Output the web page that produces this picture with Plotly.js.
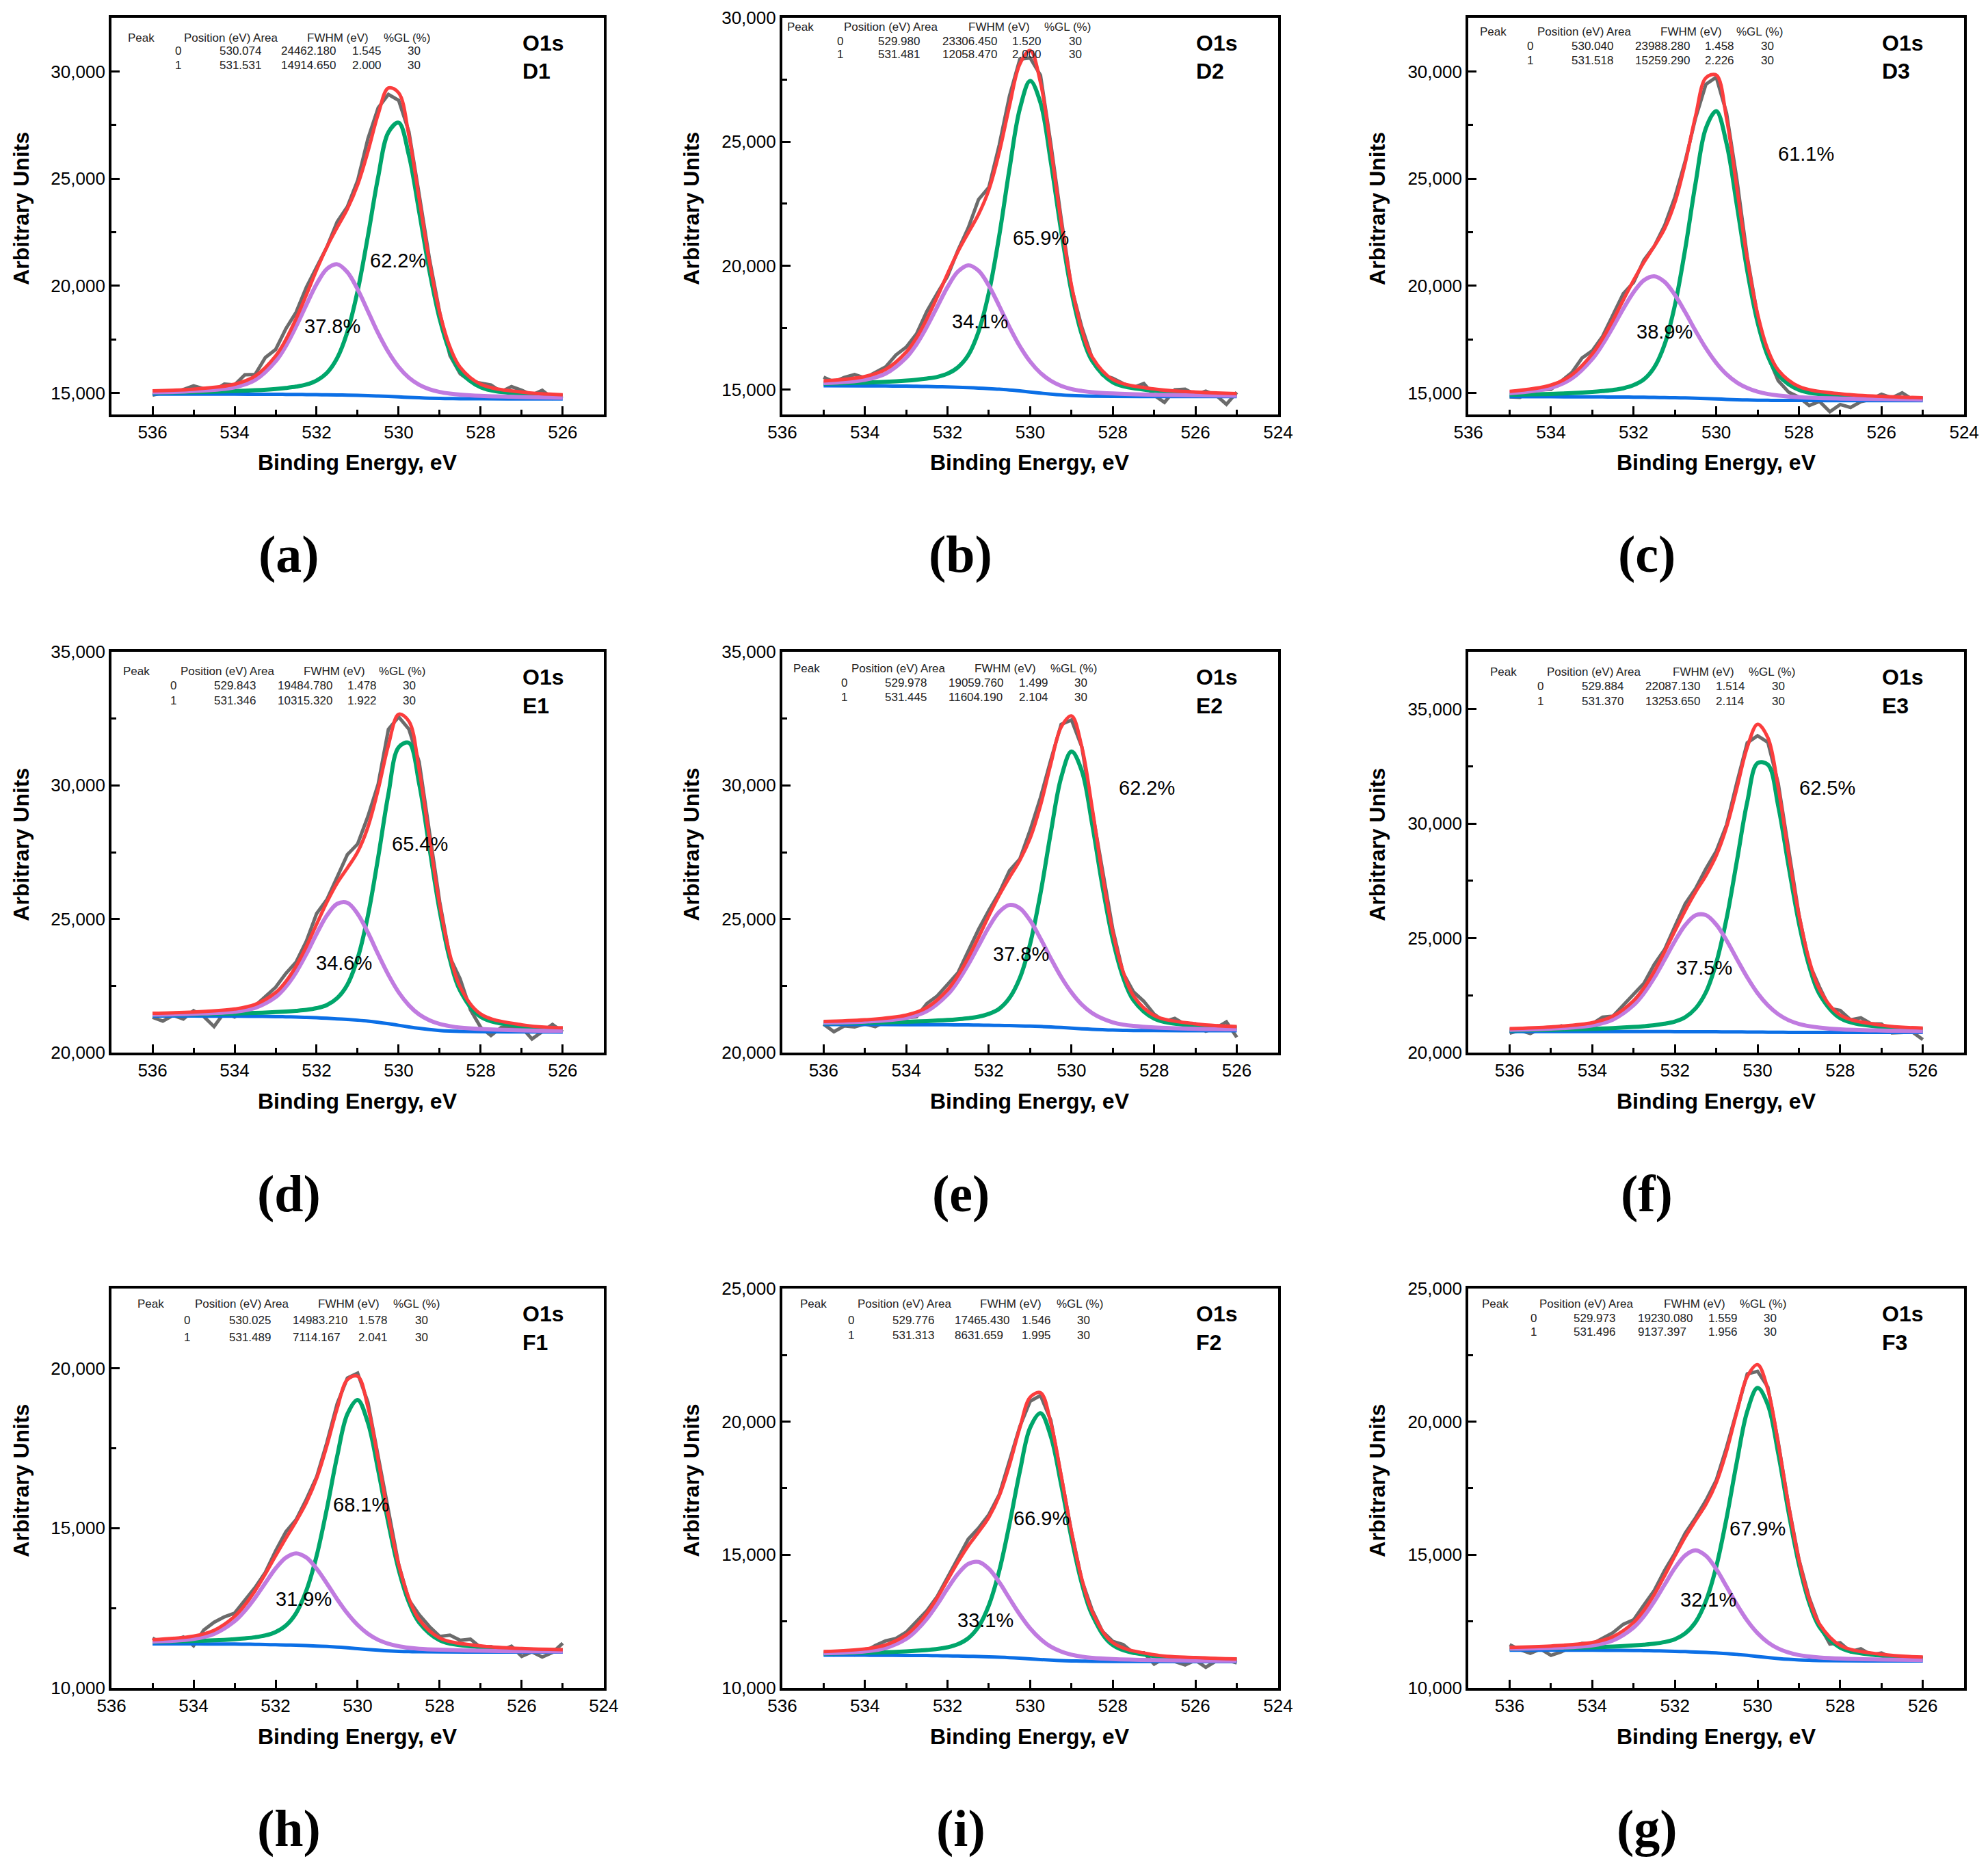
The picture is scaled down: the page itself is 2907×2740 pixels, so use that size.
<!DOCTYPE html>
<html>
<head>
<meta charset="utf-8">
<script src="https://cdn.plot.ly/plotly-3.0.1.min.js"></script>
<style>
body {margin:0; background:#fff;}
#chart {width:2907px; height:2740px;}
</style>
</head>
<body>
<div id="chart"></div>
<script>

// ---------------------------- DATA -------------------------------- //

// binding energy grids (eV)
var evA = [536,535,534,533.5,533,532.75,532.5,532.25,532,531.75,531.5,531.25,531,530.75,530.5,530.25,530,529.75,529.5,529.25,529,528.75,528.5,528,527,526]
var evB = [535,534,533.5,533,532.75,532.5,532.25,532,531.75,531.5,531.25,531,530.75,530.5,530.25,530,529.75,529.5,529.25,529,528.75,528.5,528,527,526,525]
var rawEvA = [536,535.75,535.5,535.25,535,534.75,534.5,534.25,534,533.75,533.5,533.25,533,532.75,532.5,532.25,532,531.75,531.5,531.25,531,530.75,530.5,530.25,530,529.75,529.5,529.25,529,528.75,528.5,528.25,528,527.75,527.5,527.25,527,526.75,526.5,526.25,526]
var rawEvB = [535,534.75,534.5,534.25,534,533.75,533.5,533.25,533,532.75,532.5,532.25,532,531.75,531.5,531.25,531,530.75,530.5,530.25,530,529.75,529.5,529.25,529,528.75,528.5,528.25,528,527.75,527.5,527.25,527,526.75,526.5,526.25,526,525.75,525.5,525.25,525]

// D1
var rawD1   = [14900,15020,14995,15170,15340,15200,15125,15420,15380,15855,15870,16660,17030,18000,18770,19930,20840,21810,22980,23690,24910,26860,28300,28930,28650,27190,24260,21270,18760,16750,15900,15550,15460,15380,15060,15300,15130,14910,15130,14750,14870]
var bgD1    = [14950,14949,14948,14946,14942,14939,14936,14931,14926,14919,14912,14903,14893,14881,14864,14844,14822,14800,14781,14764,14752,14744,14739,14734,14731,14730]
var peak0D1 = [15014,15044,15092,15133,15193,15238,15300,15399,15586,15941,16629,17854,19770,22320,25076,27160,27608,26086,23455,20706,18462,16919,16013,15274,14960,14865]
var peak1D1 = [15037,15091,15271,15605,16479,17196,18108,19116,20084,20787,21008,20637,19834,18819,17792,16912,16216,15715,15385,15179,15051,14976,14928,14871,14816,14788]
var envD1   = [15101,15186,15415,15792,16730,17495,18472,19584,20744,21809,22725,23588,24711,26258,28004,29228,29002,27001,24059,21121,18761,17151,16202,15411,15045,14923]

// D2
var rawD2   = [15507,15320,15495,15610,15475,15715,15918,16400,16719,17253,18163,18888,19579,20616,21525,22672,23165,24862,26854,28333,28380,27680,24916,21910,19108,17525,16270,15600,15462,15250,15090,15250,14779,14490,15000,15025,14806,14940,14775,14410,14897]
var bgD2    = [15160,15157,15151,15144,15139,15132,15123,15112,15099,15084,15066,15047,15023,14990,14951,14908,14864,14825,14792,14769,14753,14743,14733,14727,14725,14725]
var peak0D2 = [15245,15288,15319,15368,15404,15452,15517,15648,15903,16390,17339,18915,21203,23920,26330,27455,26570,24182,21399,18951,17227,16162,15296,14958,14858,14812]
var peak1D2 = [15272,15404,15650,16295,16838,17543,18344,19143,19762,20019,19799,19197,18382,17524,16754,16133,15674,15359,15153,15026,14951,14901,14849,14798,14773,14760]
var envD2   = [15357,15535,15818,16519,17103,17863,18738,19679,20566,21325,22072,23065,24562,26454,28133,28680,27380,24716,21760,19208,17425,16320,15412,15029,14906,14847]

// D3
var rawD3   = [14827,14800,15125,15150,15174,15560,15946,16635,16974,17648,18605,19637,20164,21198,21848,22814,24145,25827,27829,29401,29730,28054,24952,21367,18598,16715,15574,15050,14809,14420,14610,14130,14467,14330,14600,14720,14945,14780,15015,14700,14731]
var bgD3    = [14830,14829,14826,14824,14821,14818,14815,14810,14805,14799,14791,14783,14773,14760,14744,14726,14708,14691,14678,14668,14662,14658,14653,14651,14650,14650]
var peak0D3 = [14916,14962,14998,15056,15096,15145,15224,15371,15640,16199,17268,19104,21732,24788,27356,28146,26634,23750,20708,18302,16721,15842,15151,14870,14778,14733]
var peak1D3 = [14991,15241,15674,16592,17273,18078,18928,19703,20263,20448,20187,19574,18768,17901,17089,16410,15878,15493,15237,15064,14956,14890,14811,14748,14717,14698]
var envD3   = [15077,15374,15846,16824,17548,18405,19337,20264,21098,21848,22664,23895,25727,27929,29701,29830,27804,24552,21267,18698,17015,16074,15309,14967,14845,14781]

// E1
var rawE1   = [21320,21180,21395,21257,21569,21347,20975,21503,21331,21565,21752,22120,22446,22963,23391,24173,25206,25728,26544,27410,27810,28839,30045,32100,32561,32101,30879,28313,25646,23562,22756,21600,20945,20640,20940,20940,20941,20510,20785,21055,20776]
var bgE1    = [21370,21368,21363,21358,21348,21341,21332,21319,21304,21286,21265,21241,21214,21181,21136,21082,21022,20962,20908,20863,20830,20809,20795,20781,20773,20770]
var peak0E1 = [21416,21433,21462,21485,21516,21537,21565,21601,21664,21782,22041,22545,23532,25126,27302,29674,31425,31591,30060,27665,25304,23482,22315,21342,20979,20885]
var peak1E1 = [21424,21454,21532,21675,22078,22467,23008,23691,24446,25132,25568,25606,25192,24494,23679,22908,22258,21772,21427,21211,21072,20989,20936,20884,20835,20811]
var envE1   = [21470,21519,21631,21802,22246,22663,23241,23973,24806,25628,26344,26910,27510,28439,29845,31500,32661,32401,30579,28013,25546,23662,22456,21445,21041,20926]

// E2
var rawE2   = [21067,20782,20997,20962,21077,20971,21165,21110,21304,21345,21837,22120,22550,22983,23799,24612,25324,25985,26812,27246,28327,29550,30957,32284,32449,31440,29057,26839,24610,22977,22277,21920,21442,21160,21285,21055,21076,20800,20925,21150,20576]
var bgE2    = [21050,21049,21047,21045,21042,21039,21035,21030,21025,21018,21010,21001,20990,20978,20960,20940,20917,20894,20873,20856,20843,20835,20830,20824,20821,20820]
var peak0E2 = [21098,21117,21152,21180,21222,21252,21289,21345,21450,21640,22046,22793,24077,25961,28243,30295,31267,30539,28550,26222,24220,22814,21959,21274,21005,20927]
var peak1E2 = [21119,21159,21299,21552,22170,22670,23295,23997,24699,25263,25526,25404,24940,24267,23524,22829,22249,21795,21480,21273,21133,21048,20998,20942,20892,20869]
var envE2   = [21167,21227,21404,21687,22350,22883,23549,24312,25124,25885,26562,27196,28027,29250,30807,32184,32599,31440,29157,26639,24510,23027,22127,21392,21076,20976]

// E3
var rawE3   = [20850,20968,20836,21054,20972,21168,21015,21110,21257,21550,21595,22084,22523,23028,23851,24503,25514,26505,27164,28029,28798,29946,31796,33524,33837,33548,31761,28788,26035,23893,22858,21930,21843,21430,21520,21260,21249,20865,20885,20900,20570]
var bgE3    = [20920,20920,20920,20919,20919,20918,20917,20917,20916,20914,20913,20911,20910,20907,20904,20901,20897,20893,20889,20886,20884,20883,20882,20881,20880,20880]
var peak0E3 = [20974,20998,21039,21070,21119,21154,21197,21261,21359,21549,21931,22636,23917,25855,28368,30940,32637,32574,30773,28158,25664,23770,22547,21504,21114,21012]
var peak1E3 = [20996,21044,21188,21444,22073,22592,23271,24059,24871,25570,25996,26004,25591,24898,24082,23285,22597,22067,21677,21416,21255,21156,21093,21020,20965,20938]
var envE3   = [21050,21122,21307,21595,22273,22828,23551,24403,25314,26205,27014,27729,28598,29846,31546,33324,34337,33748,31561,28688,26035,24043,22758,21643,21199,21070]

// F1
var rawF1   = [11558,11387,11485,11594,11322,11813,12054,12222,12340,12744,13142,13619,14287,14885,15268,15904,16605,17681,18894,19698,19853,18943,17244,15426,13863,12751,12289,11920,11612,11650,11490,11525,11264,11295,11175,11305,10986,11126,10967,11107,11398]
var bgF1    = [11380,11378,11375,11371,11368,11363,11358,11351,11344,11335,11324,11312,11298,11279,11255,11229,11203,11180,11160,11146,11137,11131,11125,11121,11120,11120]
var peak0F1 = [11439,11468,11490,11526,11551,11585,11642,11749,11952,12341,13048,14136,15611,17246,18571,19013,18301,16819,15154,13704,12681,12044,11492,11272,11207,11177]
var peak1F1 = [11449,11532,11689,12085,12411,12820,13285,13739,14077,14212,14080,13731,13268,12777,12332,11969,11695,11505,11382,11305,11257,11226,11195,11163,11149,11141]
var envF1   = [11508,11622,11804,12240,12594,13042,13569,14137,14685,15218,15804,16555,17581,18744,19648,19753,18793,17144,15376,13863,12801,12139,11562,11314,11236,11198]

// F2
var rawF2   = [11314,11240,11315,11240,11365,11590,11765,11854,12093,12491,12903,13434,14154,14875,15585,16002,16511,17256,18531,19821,20769,20986,20047,18026,15862,14044,12923,12120,11748,11630,11310,11320,10897,11120,10990,10865,11039,10775,11012,11050,10937]
var bgF2    = [11230,11228,11225,11221,11218,11215,11210,11204,11196,11188,11178,11168,11154,11136,11115,11091,11067,11045,11027,11014,11006,11000,10995,10991,10990,10990]
var peak0F2 = [11290,11319,11340,11372,11395,11425,11460,11526,11641,11865,12300,13105,14389,16160,18132,19777,20318,19444,17637,15630,13926,12743,11607,11192,11102,11061]
var peak1F2 = [11304,11374,11500,11842,12164,12593,13134,13732,14280,14658,14730,14474,13971,13357,12754,12233,11835,11548,11366,11246,11174,11130,11086,11046,11027,11016]
var envF2   = [11364,11465,11615,11993,12341,12803,13384,14054,14725,15335,15852,16411,17206,18381,19771,20919,21086,19947,17976,15862,14094,12873,11698,11247,11139,11087]

// F3
var rawF3   = [11623,11436,11299,11461,11224,11356,11540,11672,11654,11865,12075,12390,12558,13115,13660,14414,15059,15819,16391,17043,17802,19043,20420,21793,21892,21298,19236,16863,14835,13393,12346,11650,11698,11360,11470,11240,11311,11135,11060,11135,11108]
var bgF3    = [11420,11418,11415,11412,11405,11400,11394,11385,11375,11363,11348,11332,11313,11291,11260,11223,11182,11141,11104,11074,11051,11037,11027,11018,11012,11010]
var peak0F3 = [11471,11491,11524,11554,11595,11624,11661,11723,11830,12051,12471,13264,14550,16379,18502,20387,21267,20629,18812,16607,14652,13202,12281,11514,11209,11122]
var peak1F3 = [11472,11501,11595,11783,12268,12691,13243,13876,14504,14981,15168,14961,14465,13805,13128,12529,12057,11710,11478,11330,11234,11178,11142,11102,11064,11046]
var envF3   = [11523,11574,11704,11925,12458,12915,13510,14214,14959,15669,16291,16893,17702,18893,20370,21693,22142,21198,19186,16863,14835,13343,12396,11598,11261,11158]

// fit tables: [peak, position, area, fwhm, %GL]
var tableD1 = [['0','530.074','24462.180','1.545','30'],['1','531.531','14914.650','2.000','30']]
var tableD2 = [['0','529.980','23306.450','1.520','30'],['1','531.481','12058.470','2.000','30']]
var tableD3 = [['0','530.040','23988.280','1.458','30'],['1','531.518','15259.290','2.226','30']]
var tableE1 = [['0','529.843','19484.780','1.478','30'],['1','531.346','10315.320','1.922','30']]
var tableE2 = [['0','529.978','19059.760','1.499','30'],['1','531.445','11604.190','2.104','30']]
var tableE3 = [['0','529.884','22087.130','1.514','30'],['1','531.370','13253.650','2.114','30']]
var tableF1 = [['0','530.025','14983.210','1.578','30'],['1','531.489','7114.167','2.041','30']]
var tableF2 = [['0','529.776','17465.430','1.546','30'],['1','531.313','8631.659','1.995','30']]
var tableF3 = [['0','529.973','19230.080','1.559','30'],['1','531.496','9137.397','1.956','30']]

// peak shares (%), [peak 0, peak 1]
var shareD1 = [62.2, 37.8]
var shareD2 = [65.9, 34.1]
var shareD3 = [61.1, 38.9]
var shareE1 = [65.4, 34.6]
var shareE2 = [62.2, 37.8]
var shareE3 = [62.5, 37.5]
var shareF1 = [68.1, 31.9]
var shareF2 = [66.9, 33.1]
var shareF3 = [67.9, 32.1]

var tableHead = ['Peak', 'Position (eV) Area', 'FWHM (eV)', '%GL (%)']


// ---------------------------- PANELS -------------------------------- //

var colX = [[0.0561, 0.3037], [0.3935, 0.6429], [0.7386, 0.9880]]
var rowY = [[0.7788, 0.9905], [0.4383, 0.6522], [0.0993, 0.3124]]

var colors = {raw: '#6b6b6b', bg: '#0b6fe6', p0: '#00a66b', p1: '#c07be0', env: '#fb3d3d'}

var panels = [
    {tag:'(a)', name:'D1', col:0, row:0, ev:evA, rawEv:rawEvA, raw:rawD1, bg:bgD1, p0:peak0D1, p1:peak1D1, env:envD1, table:tableD1, share:shareD1,
     xr:[537,525], yr:[14000,32500], sharePos:[[530.02,21190],[531.62,18130]],
     tx:[0.030,0.145,0.395,0.550,0.126,0.216,0.342,0.486,0.599], ty:[0.050,0.083,0.119]},
    {tag:'(b)', name:'D2', col:1, row:0, ev:evB, rawEv:rawEvB, raw:rawD2, bg:bgD2, p0:peak0D2, p1:peak1D2, env:envD2, table:tableD2, share:shareD2,
     xr:[536,524], yr:[14000,30000], sharePos:[[529.74,21130],[531.22,17740]],
     tx:[0.007,0.122,0.372,0.525,0.108,0.191,0.320,0.461,0.575], ty:[0.023,0.059,0.092]},
    {tag:'(c)', name:'D3', col:2, row:0, ev:evB, rawEv:rawEvB, raw:rawD3, bg:bgD3, p0:peak0D3, p1:peak1D3, env:envD3, table:tableD3, share:shareD3,
     xr:[536,524], yr:[14000,32500], sharePos:[[527.82,26160],[531.25,17870]],
     tx:[0.021,0.136,0.384,0.538,0.116,0.205,0.334,0.474,0.588], ty:[0.036,0.071,0.108]},
    {tag:'(d)', name:'E1', col:0, row:1, ev:evA, rawEv:rawEvA, raw:rawE1, bg:bgE1, p0:peak0E1, p1:peak1E1, env:envE1, table:tableE1, share:shareE1,
     xr:[537,525], yr:[20000,35000], sharePos:[[529.48,27800],[531.34,23360]],
     tx:[0.021,0.137,0.388,0.540,0.117,0.206,0.335,0.477,0.589], ty:[0.049,0.085,0.122]},
    {tag:'(e)', name:'E2', col:1, row:1, ev:evA, rawEv:rawEvA, raw:rawE2, bg:bgE2, p0:peak0E2, p1:peak1E2, env:envE2, table:tableE2, share:shareE2,
     xr:[537,525], yr:[20000,35000], sharePos:[[528.18,29900],[531.22,23690]],
     tx:[0.020,0.136,0.385,0.538,0.116,0.204,0.333,0.474,0.587], ty:[0.042,0.077,0.113]},
    {tag:'(f)', name:'E3', col:2, row:1, ev:evA, rawEv:rawEvA, raw:rawE3, bg:bgE3, p0:peak0E3, p1:peak1E3, env:envE3, table:tableE3, share:shareE3,
     xr:[537,525], yr:[20000,37500], sharePos:[[528.32,31570],[531.29,23700]],
     tx:[0.041,0.156,0.409,0.563,0.137,0.226,0.354,0.496,0.609], ty:[0.050,0.086,0.123]},
    {tag:'(h)', name:'F1', col:0, row:2, ev:evB, rawEv:rawEvB, raw:rawF1, bg:bgF1, p0:peak0F1, p1:peak1F1, env:envF1, table:tableF1, share:shareF1,
     xr:[536,524], yr:[10000,22500], sharePos:[[529.92,15740],[531.32,12780]],
     tx:[0.050,0.167,0.416,0.570,0.145,0.236,0.365,0.499,0.614], ty:[0.039,0.080,0.122]},
    {tag:'(i)', name:'F2', col:1, row:2, ev:evB, rawEv:rawEvB, raw:rawF2, bg:bgF2, p0:peak0F2, p1:peak1F2, env:envF2, table:tableF2, share:shareF2,
     xr:[536,524], yr:[10000,25000], sharePos:[[529.73,16370],[531.09,12550]],
     tx:[0.033,0.149,0.396,0.550,0.130,0.219,0.345,0.480,0.592], ty:[0.039,0.079,0.118]},
    {tag:'(g)', name:'F3', col:2, row:2, ev:evA, rawEv:rawEvA, raw:rawF3, bg:bgF3, p0:peak0F3, p1:peak1F3, env:envF3, table:tableF3, share:shareF3,
     xr:[537,525], yr:[10000,25000], sharePos:[[530.0,15980],[531.2,13320]],
     tx:[0.025,0.141,0.392,0.545,0.122,0.209,0.339,0.481,0.593], ty:[0.039,0.074,0.108]},
]


// ---------------------------- BUILD -------------------------------- //

function axId(k, letter) { return k == 0 ? letter : letter + (k + 1) }

function lineTrace(x, y, color, width, shape, xa, ya) {
    return {x: x, y: y, type: 'scatter', mode: 'lines', hoverinfo: 'skip',
        line: {color: color, width: width, shape: shape}, xaxis: xa, yaxis: ya}
}

function note(text, x, y, xref, yref, opts) {
    var a = {text: text, x: x, y: y, xref: xref, yref: yref, showarrow: false,
        xanchor: 'left', yanchor: 'middle', font: {size: 17, color: '#222'}}
    for (var key in opts) {a[key] = opts[key]}
    return a
}

var data = []
var layout = {
    width: 2907, height: 2740,
    margin: {l: 0, r: 0, t: 0, b: 0},
    paper_bgcolor: 'white', plot_bgcolor: 'white',
    showlegend: false,
    font: {family: 'Liberation Sans, Arial, sans-serif', color: 'black'},
    annotations: []
}

for (var k = 0; k < panels.length; k++) {
    var p = panels[k]
    var xa = axId(k, 'x'), ya = axId(k, 'y')
    var xd = xa + ' domain', yd = ya + ' domain'

    data.push(lineTrace(p.rawEv, p.raw, colors.raw, 5, 'linear', xa, ya))
    data.push(lineTrace(p.ev, p.bg, colors.bg, 5, 'spline', xa, ya))
    data.push(lineTrace(p.ev, p.p0, colors.p0, 6, 'spline', xa, ya))
    data.push(lineTrace(p.ev, p.p1, colors.p1, 6, 'spline', xa, ya))
    data.push(lineTrace(p.ev, p.env, colors.env, 5, 'spline', xa, ya))

    var common = {
        showline: true, linecolor: 'black', linewidth: 4, mirror: true,
        ticks: 'inside', ticklen: 12, tickwidth: 3, tickcolor: 'black',
        tickfont: {size: 26, color: 'black'},
        showgrid: false, zeroline: false, fixedrange: true
    }
    layout[xa.replace('x', 'xaxis')] = Object.assign({}, common, {
        domain: colX[p.col], range: p.xr, anchor: ya,
        tick0: 526, dtick: 2,
        minor: {tick0: 0, dtick: 1, ticks: 'inside', ticklen: 7, tickwidth: 3, tickcolor: 'black'}
    })
    layout[ya.replace('y', 'yaxis')] = Object.assign({}, common, {
        domain: rowY[p.row], range: p.yr, anchor: xa,
        tick0: 0, dtick: 5000, tickformat: ',d',
        minor: {tick0: 0, dtick: 2500, ticks: 'inside', ticklen: 7, tickwidth: 3, tickcolor: 'black'}
    })

    // fit table
    var ann = layout.annotations
    for (var c = 0; c < 4; c++) {
        ann.push(note(tableHead[c], p.tx[c], 1 - p.ty[0], xd, yd, {}))
    }
    for (var r = 0; r < 2; r++) {
        for (var c = 0; c < 5; c++) {
            ann.push(note(p.table[r][c], p.tx[4 + c], 1 - p.ty[1 + r], xd, yd, {}))
        }
    }

    // sample label
    ann.push(note('O1s', 0.832, 0.936, xd, yd, {font: {size: 32, color: 'black', weight: 'bold'}}))
    ann.push(note(p.name, 0.832, 0.865, xd, yd, {font: {size: 32, color: 'black', weight: 'bold'}}))

    // peak shares
    for (var s = 0; s < 2; s++) {
        ann.push(note(p.share[s].toFixed(1) + '%', p.sharePos[s][0], p.sharePos[s][1], xa, ya,
            {xanchor: 'center', font: {size: 29, color: 'black'}}))
    }

    // axis titles
    ann.push(note('Binding Energy, eV', 0.5, -0.121, xd, yd,
        {xanchor: 'center', font: {size: 32, color: 'black', weight: 'bold'}}))
    ann.push(note('Arbitrary Units', -0.183, 0.52, xd, yd,
        {xanchor: 'center', textangle: -90, font: {size: 32, color: 'black', weight: 'bold'}}))

    // panel tag
    ann.push(note(p.tag, 0.36, -0.352, xd, yd,
        {xanchor: 'center', font: {size: 76, color: 'black', weight: 'bold', family: 'Liberation Serif, Times New Roman, serif'}}))
}

Plotly.newPlot('chart', data, layout, {displayModeBar: false})

</script>
</body>
</html>
